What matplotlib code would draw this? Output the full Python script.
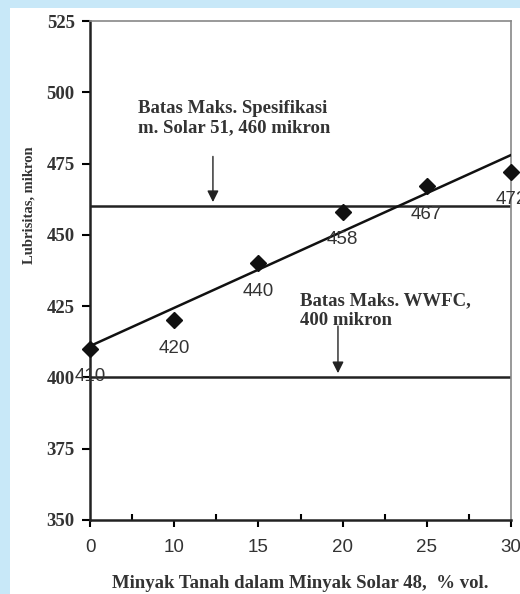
import numpy as np
import matplotlib
matplotlib.use("Agg")
import matplotlib.pyplot as plt
from matplotlib.patches import Rectangle

# data
kerosene_pct = ["0", "10", "15", "20", "25", "30"]
lubricity = [410, 420, 440, 458, 467, 472]
limit_solar51 = 460
limit_wwfc = 400
y_ticks = [350, 375, 400, 425, 450, 475, 500, 525]

serif = "Liberation Serif"
sans = "Liberation Sans"
txt_col = "#333333"
fs = 13.5

fig = plt.figure(figsize=(5.2, 5.94), dpi=100)
fig.patch.set_facecolor("#c8e8f8")
fig.add_artist(Rectangle((10 / 520, 0), 1, (594 - 8) / 594, transform=fig.transFigure,
                         facecolor="white", edgecolor="none", zorder=0))

ax = fig.add_axes([90 / 520, 74 / 594, 421 / 520, 499 / 594])
ax.set_facecolor("white")

idx = np.arange(len(kerosene_pct))
ax.plot(idx, lubricity, linestyle="none", marker="D", markersize=8,
        color="#111111", clip_on=False, zorder=4)

# linear trend line
k, b = np.polyfit(idx, lubricity, 1)
ax.plot(idx[[0, -1]], k * idx[[0, -1]] + b, color="#111111", lw=1.8, zorder=3)

ax.axhline(limit_solar51, color="#222222", lw=1.8, zorder=2)
ax.axhline(limit_wwfc, color="#222222", lw=1.8, zorder=2)

for i, v in zip(idx, lubricity):
    ax.annotate(str(v), (i, v), xytext=(0, -20), textcoords="offset points",
                ha="center", va="center", fontsize=fs, family=sans,
                color=txt_col, annotation_clip=False, zorder=5)

ax.text(0.57, 491, "Batas Maks. Spesifikasi\nm. Solar 51, 460 mikron",
        ha="left", va="center", fontsize=fs, family=serif, fontweight="bold",
        color=txt_col, linespacing=1.2)
ax.annotate("", xy=(1.46, 461.5), xytext=(1.46, 477.5),
            arrowprops=dict(arrowstyle="-|>", color="#222222", lw=1.0,
                            mutation_scale=17, shrinkA=0, shrinkB=0))

ax.text(2.49, 423.5, "Batas Maks. WWFC,\n400 mikron",
        ha="left", va="center", fontsize=fs, family=serif, fontweight="bold",
        color=txt_col, linespacing=1.2)
ax.annotate("", xy=(2.945, 401.5), xytext=(2.945, 418),
            arrowprops=dict(arrowstyle="-|>", color="#222222", lw=1.0,
                            mutation_scale=17, shrinkA=0, shrinkB=0))

ax.set_xlim(0, len(kerosene_pct) - 1)
ax.set_ylim(350, 525)
ax.set_yticks(y_ticks)
ax.set_yticklabels([str(t) for t in y_ticks], family=serif, fontweight="bold",
                   fontsize=fs, color=txt_col)
ax.set_xticks(idx)
ax.set_xticklabels(kerosene_pct, family=sans, fontsize=fs, color=txt_col)
ax.set_xticks(idx[:-1] + 0.5, minor=True)
ax.tick_params(axis="y", direction="out", length=6, width=1.5, pad=5)
ax.tick_params(axis="x", which="major", direction="out", length=5, width=1.5, pad=9)
ax.tick_params(axis="x", which="minor", direction="in", length=4, width=1.5)

for s in ["left", "bottom"]:
    ax.spines[s].set_color("#222222")
    ax.spines[s].set_linewidth(1.8)
for s in ["top", "right"]:
    ax.spines[s].set_color("#888888")
    ax.spines[s].set_linewidth(1.2)

ax.set_ylabel("Lubrisitas, mikron", family=serif, fontweight="bold",
              fontsize=10.5, color=txt_col)
ax.yaxis.set_label_coords(-0.13, 0.63)
ax.set_xlabel("Minyak Tanah dalam Minyak Solar 48,  % vol.", family=serif,
              fontweight="bold", fontsize=fs, color=txt_col, labelpad=13)

fig.savefig("out.png", dpi=100)
